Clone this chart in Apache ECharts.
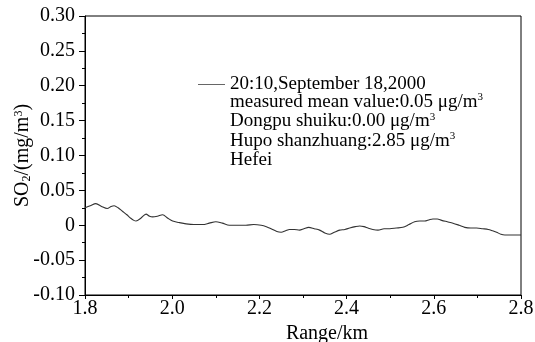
<!DOCTYPE html>
<html>
<head>
<meta charset="utf-8">
<script src="https://cdn.jsdelivr.net/npm/echarts@6/dist/echarts.min.js"></script>
<style>
  html, body { margin: 0; padding: 0; background: #fff; }
  #chart { width: 535px; height: 342px; }
</style>
</head>
<body>
<div id="chart"></div>
<script>
// Range along the lidar path (km)
const ranges = [1.800,1.812,1.825,1.838,1.851,1.860,1.867,1.876,1.886,1.896,1.905,1.912,1.917,1.928,1.940,1.948,1.955,1.966,1.978,1.990,
  2.001,2.015,2.032,2.050,2.070,2.085,2.100,2.115,2.131,2.150,2.169,2.187,2.204,2.216,2.227,2.240,2.250,2.260,2.269,2.280,
  2.292,2.302,2.313,2.326,2.338,2.350,2.361,2.372,2.384,2.396,2.407,2.420,2.430,2.440,2.449,2.460,2.472,2.486,2.499,2.514,
  2.529,2.543,2.556,2.568,2.579,2.590,2.598,2.608,2.618,2.631,2.644,2.658,2.671,2.685,2.698,2.712,2.725,2.735,2.744,2.754,
  2.763,2.780,2.800];
// SO2 concentration (mg/m3)
const so2 = [0.025,0.028,0.031,0.027,0.024,0.027,0.028,0.025,0.020,0.015,0.010,0.007,0.006,0.010,0.016,0.013,0.012,0.013,0.015,0.010,
  0.006,0.004,0.002,0.001,0.001,0.003,0.005,0.003,0.000,0.000,0.000,0.001,0.000,-0.002,-0.005,-0.009,-0.010,-0.008,-0.006,-0.006,
  -0.007,-0.005,-0.003,-0.005,-0.007,-0.011,-0.013,-0.010,-0.007,-0.006,-0.004,-0.002,-0.001,-0.002,-0.004,-0.006,-0.007,-0.005,-0.005,-0.004,
  -0.003,0.001,0.005,0.006,0.006,0.008,0.009,0.009,0.007,0.005,0.003,0.000,-0.003,-0.004,-0.004,-0.005,-0.006,-0.008,-0.010,-0.013,
  -0.014,-0.014,-0.014];

const seriesName = '20:10,September 18,2000';
const noteLines = [
  'measured mean value:0.05 μg/m{sup|3}',
  'Dongpu shuiku:0.00 μg/m{sup|3}',
  'Hupo shanzhuang:2.85 μg/m{sup|3}',
  'Hefei'
];

const FONT = 'Liberation Serif';
const chart = echarts.init(document.getElementById('chart'));

chart.setOption({
  animation: false,
  backgroundColor: '#fff',
  grid: {
    left: 85, right: 14, top: 16, bottom: 47,
    outerBoundsMode: 'none', containLabel: false,
    show: true, borderColor: '#000', borderWidth: 1
  },
  legend: {
    show: true,
    left: 193, top: 70,
    itemWidth: 27, itemHeight: 1,
    icon: 'rect',
    data: [seriesName],
    textStyle: { fontFamily: FONT, fontSize: 19, color: '#000' }
  },
  xAxis: {
    type: 'value', min: 1.8, max: 2.8, interval: 0.2,
    name: 'Range/km', nameLocation: 'middle', nameGap: 28,
    nameTextStyle: { fontFamily: FONT, fontSize: 20, color: '#000', padding: [0, 0, 0, 48] },
    axisLine: { show: true, onZero: false, lineStyle: { color: '#000', width: 1 } },
    axisTick: { show: true, length: 4, lineStyle: { color: '#000' } },
    minorTick: { show: true, splitNumber: 2, length: 3, lineStyle: { color: '#000' } },
    axisLabel: { fontFamily: FONT, fontSize: 20, color: '#000', margin: 4,
      formatter: v => v.toFixed(1) },
    splitLine: { show: false }
  },
  yAxis: {
    type: 'value', min: -0.1, max: 0.3, interval: 0.05,
    name: 'SO{sub|2}/(mg/m{sup|3})', nameLocation: 'middle', nameGap: 52, nameRotate: 90,
    nameMoveOverlap: false,
    nameTextStyle: {
      fontFamily: FONT, fontSize: 20, color: '#000',
      rich: {
        sub: { fontFamily: FONT, fontSize: 12, color: '#000', verticalAlign: 'bottom', padding: [8, 0, 0, 0] },
        sup: { fontFamily: FONT, fontSize: 12, color: '#000', verticalAlign: 'top' }
      }
    },
    axisLine: { show: true, onZero: false, lineStyle: { color: '#000', width: 1 } },
    axisTick: { show: true, length: 6, lineStyle: { color: '#000' } },
    minorTick: { show: true, splitNumber: 2, length: 3, lineStyle: { color: '#000' } },
    axisLabel: { fontFamily: FONT, fontSize: 20, color: '#000', margin: 10,
      formatter: v => (Math.abs(v) < 1e-9 ? '0' : v.toFixed(2)) },
    splitLine: { show: false }
  },
  graphic: [{
    type: 'text',
    left: 230, top: 92,
    style: {
      text: noteLines.join('\n'),
      font: '19px "Liberation Serif"',
      fill: '#000',
      lineHeight: 19.5,
      rich: {
        sup: { fontFamily: FONT, fontSize: 11, fill: '#000', verticalAlign: 'top', lineHeight: 19.5 }
      }
    }
  }],
  series: [{
    name: seriesName,
    type: 'line',
    data: ranges.map((r, i) => [r, so2[i]]),
    showSymbol: false,
    smooth: 0.3,
    lineStyle: { color: '#333', width: 1.1 },
    itemStyle: { color: '#666' }
  }]
});
</script>
</body>
</html>
